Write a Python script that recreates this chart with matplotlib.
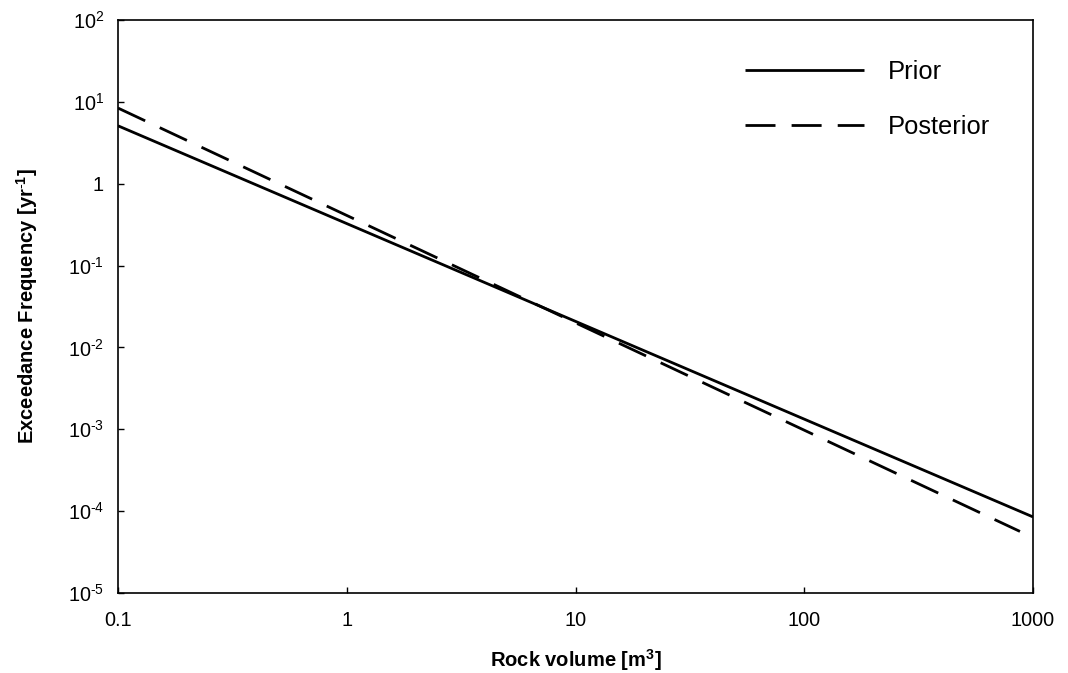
import matplotlib
matplotlib.use("Agg")
import matplotlib.pyplot as plt
from matplotlib.ticker import FixedLocator, FixedFormatter, NullLocator

plt.rcParams['font.family'] = ['Liberation Sans', 'DejaVu Sans']
plt.rcParams['mathtext.fontset'] = 'custom'
plt.rcParams['mathtext.rm'] = 'Liberation Sans'
plt.rcParams['mathtext.it'] = 'Liberation Sans'
plt.rcParams['mathtext.bf'] = 'Liberation Sans:bold'
plt.rcParams['mathtext.default'] = 'regular'

# Data (straight lines in log-log space)
prior_x = [0.1, 1000]
prior_y = [5.1, 8.5e-5]
posterior_x = [0.1, 877]
posterior_y = [8.4, 5.65e-5]

x_ticks = [0.1, 1, 10, 100, 1000]
x_labels = ['0.1', '1', '10', '100', '1000']
y_ticks = [1e-5, 1e-4, 1e-3, 1e-2, 1e-1, 1, 10, 100]
y_labels = [r'$10^{\text{-}5}$', r'$10^{\text{-}4}$', r'$10^{\text{-}3}$', r'$10^{\text{-}2}$',
            r'$10^{\text{-}1}$', '1', '$10^{1}$', '$10^{2}$']

W, H = 1068, 673
fig = plt.figure(figsize=(W/100, H/100), dpi=100)
ax = fig.add_axes([118/W, 1 - 593/H, (1033-118)/W, (593-20)/H])

lw = 2.0
ax.plot(prior_x, prior_y, color='black', lw=lw, label='Prior', solid_capstyle='butt')
ax.plot(posterior_x, posterior_y, color='black', lw=lw, dashes=(10.8, 5.8),
        label='Posterior', dash_capstyle='butt')

ax.set_xscale('log')
ax.set_yscale('log')
ax.set_xlim(0.1, 1000)
ax.set_ylim(1e-5, 100)

ax.xaxis.set_major_locator(FixedLocator(x_ticks))
ax.xaxis.set_major_formatter(FixedFormatter(x_labels))
ax.xaxis.set_minor_locator(NullLocator())
ax.yaxis.set_major_locator(FixedLocator(y_ticks))
ax.yaxis.set_major_formatter(FixedFormatter(y_labels))
ax.yaxis.set_minor_locator(NullLocator())

ax.tick_params(axis='x', which='major', direction='in', length=4, width=1,
               labelsize=14.3, pad=13, top=False)
ax.tick_params(axis='y', which='major', direction='in', length=4, width=1,
               labelsize=14.3, pad=10, right=False)
for s in ax.spines.values():
    s.set_linewidth(1.2)

ax.set_xlabel('Rock volume [m$^{3}$]', fontsize=14.5, fontweight='bold', labelpad=12)
ax.set_ylabel(r'Exceedance Frequency [yr$^{\text{-}1}$]', fontsize=14.5, fontweight='bold', labelpad=20)

fs_leg = 18.4
leg = fig.legend(loc='upper left', bbox_to_anchor=(745/W, 1 - 60/H), frameon=False,
                 fontsize=fs_leg, handlelength=4.65, handletextpad=0.95,
                 labelspacing=1.2, borderpad=0, borderaxespad=0,
                 handles=ax.get_lines(), labels=['Prior', 'Posterior'])

fig.savefig('out.png', dpi=100)
